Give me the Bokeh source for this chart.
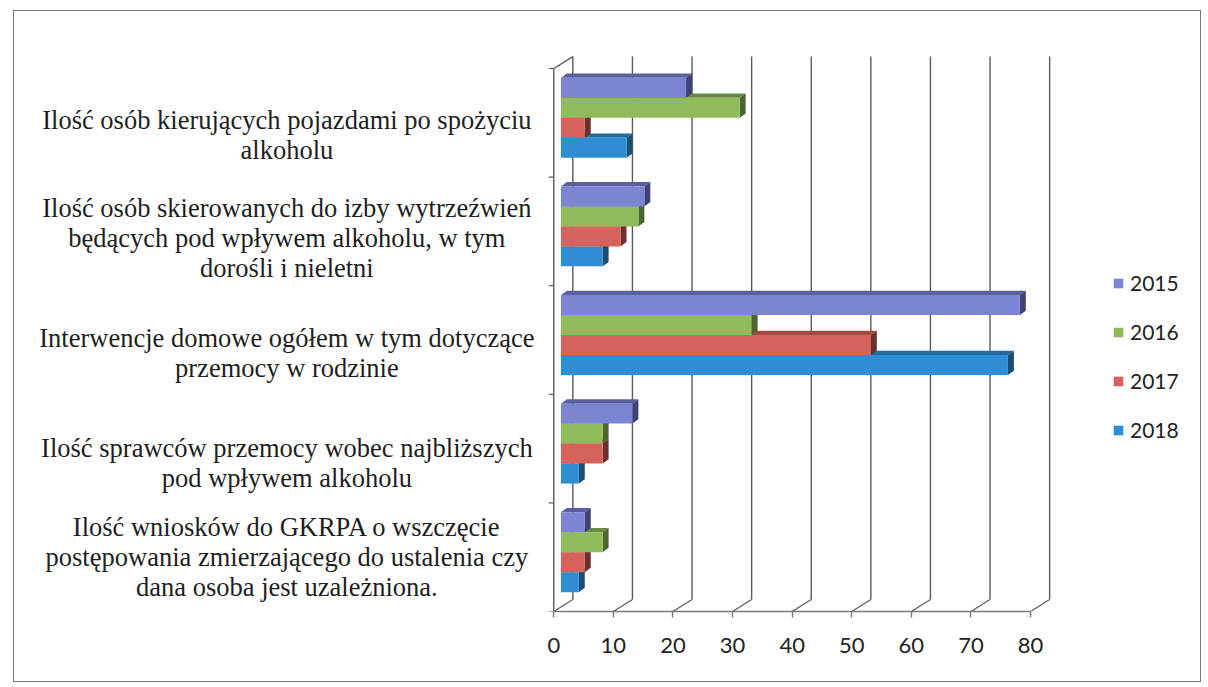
from bokeh.plotting import figure
from bokeh.models import FixedTicker, ColumnDataSource
from bokeh.core.properties import value
from bokeh.embed import file_html
from bokeh.resources import INLINE

# ---------------- data ----------------
categories = [
    "Ilość osób kierujących pojazdami po spożyciu\nalkoholu",
    "Ilość osób skierowanych do izby wytrzeźwień\nbędących pod wpływem alkoholu, w tym\ndorośli i nieletni",
    "Interwencje domowe ogółem w tym dotyczące\nprzemocy w rodzinie",
    "Ilość sprawców przemocy wobec najbliższych\npod wpływem alkoholu",
    "Ilość wniosków do GKRPA o wszczęcie\npostępowania zmierzającego do ustalenia czy\ndana osoba jest uzależniona.",
]
years = ["2015", "2016", "2017", "2018"]
v2015 = [21, 14, 77, 12, 4]
v2016 = [30, 13, 32, 7, 7]
v2017 = [4, 10, 52, 7, 4]
v2018 = [11, 7, 75, 3, 3]
x_ticks = [0, 10, 20, 30, 40, 50, 60, 70, 80]

series = [v2015, v2016, v2017, v2018]
front_colors = ["#7c84d4", "#8fbb5b", "#d5625b", "#2f8ed3"]
side_colors = ["#3e4274", "#4c6532", "#6e302c", "#1b4c72"]
top_colors = ["#5a5f9f", "#6b8a44", "#a24a44", "#236b9f"]

# ---------------- geometry (layout only) ----------------
SX = 5.9625          # px per value unit
SY = 108.6           # px per category unit
DX, DY = 3.2, 0.11   # depth of the 3D box (value units, category units)
BX, BY = 1.2, 0.046  # front plane of bars
SDX, SDY = 1.0, 0.04 # bar depth
BH = 0.184           # bar thickness
N = len(categories)
XMAX = 80

# canvas origin on the page (margin + border)
OX, OY = 14.5, 11.5
W, H = 1188, 672
ZERO_X, FLOOR_Y = 554 - OX, 612 - OY
left_px = 6
right_px = W - (1195 - OX)
top_px = 56 - OY
bottom_px = H - FLOOR_Y
frame_w = W - left_px - right_px
frame_h = H - top_px - bottom_px
x0 = -(ZERO_X - left_px) / SX
x1 = x0 + frame_w / SX
y1 = frame_h / SY

p = figure(width=W, height=H, output_backend="svg", toolbar_location=None,
           x_range=(x0, x1), y_range=(0, y1), y_axis_location=None,
           min_border_left=left_px, min_border_right=int(round(right_px)),
           min_border_top=int(round(top_px)), min_border_bottom=int(round(bottom_px)),
           background_fill_color="white", border_fill_color="white")
p.outline_line_color = None
p.grid.visible = False
p.styles = {"border": "1.5px solid #7a7a7a", "margin": "10px 0px 0px 13px"}

grid_col = "#5a5a5a"
# back wall verticals
p.segment(x0=[t + DX for t in x_ticks], y0=[DY] * len(x_ticks),
          x1=[t + DX for t in x_ticks], y1=[N + DY] * len(x_ticks),
          line_color=grid_col, line_width=1.4)
# floor diagonals
p.segment(x0=x_ticks, y0=[0] * len(x_ticks),
          x1=[t + DX for t in x_ticks], y1=[DY] * len(x_ticks),
          line_color=grid_col, line_width=1.2)
# left wall: front edge, top diagonal, ticks
p.segment(x0=[0, 0], y0=[0, N], x1=[0, DX], y1=[N, N + DY],
          line_color=grid_col, line_width=1.4)
tick_len = 5 / SX
p.segment(x0=[-tick_len] * (N + 1), y0=list(range(N + 1)),
          x1=[0] * (N + 1), y1=list(range(N + 1)),
          line_color=grid_col, line_width=1.2)

# bars (bottom series first so upper bars cover lower top faces)
for j in reversed(range(len(years))):
    vals = series[j]
    yb = [(N - 0.5 - k) + BY + (1.5 - j) * BH for k in range(N)]
    top_xs = [[BX, BX + SDX, v + BX + SDX, v + BX] for v in vals]
    top_ys = [[y + BH / 2, y + BH / 2 + SDY, y + BH / 2 + SDY, y + BH / 2] for y in yb]
    side_xs = [[v + BX, v + BX + SDX, v + BX + SDX, v + BX] for v in vals]
    side_ys = [[y - BH / 2, y - BH / 2 + SDY, y + BH / 2 + SDY, y + BH / 2] for y in yb]
    p.patches(xs=top_xs, ys=top_ys, fill_color=top_colors[j], line_color=None)
    p.patches(xs=side_xs, ys=side_ys, fill_color=side_colors[j], line_color=None)
    src = ColumnDataSource(dict(y=yb, right=[v + BX for v in vals]))
    p.hbar(y="y", left=BX, right="right", height=BH, source=src,
           fill_color=front_colors[j], line_color=None, legend_label=years[j])

# category labels
label_x = (287 - 554) / SX
label_y = [4.39, 3.44, 2.38, 1.372, 0.506]
p.text(x=[label_x] * N, y=label_y, text=categories,
       text_align="center", text_baseline="middle",
       text_font=value("Liberation Serif"), text_font_size="26.5px",
       text_color="#1e1e1e", text_line_height=1.0)

# bottom axis
ax = p.xaxis[0]
ax.ticker = FixedTicker(ticks=x_ticks)
ax.bounds = (0, XMAX)
ax.axis_line_color = "#7a7a7a"
ax.axis_line_width = 1.4
ax.major_tick_line_color = "#7a7a7a"
ax.major_tick_line_width = 1.4
ax.major_tick_out = 6
ax.major_tick_in = 0
ax.minor_tick_line_color = None
ax.major_label_text_font = "Lato"
ax.major_label_text_font_size = "22px"
ax.major_label_text_color = "#222222"
ax.major_label_standoff = 20

# legend
lg = p.legend[0]
lg.items = sorted(lg.items, key=lambda it: it.label.value)
lg.location = (1112 - 20, 169)
lg.background_fill_alpha = 0
lg.border_line_color = None
lg.glyph_width = 12
lg.glyph_height = 12
lg.label_standoff = 6
lg.label_height = 20
lg.spacing = 24
lg.padding = 0
lg.margin = 0
lg.label_text_font = "Lato"
lg.label_text_font_size = "21px"
lg.label_text_color = "#222222"

open("out.html", "w").write(file_html(p, INLINE))
